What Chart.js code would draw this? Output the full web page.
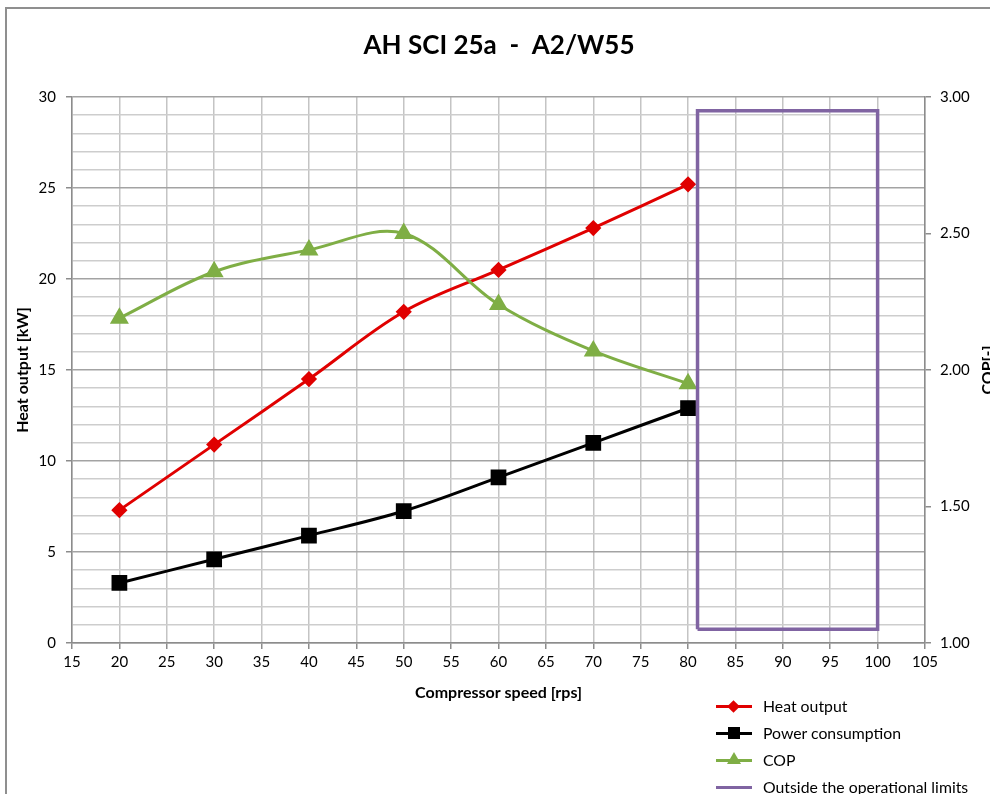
<!DOCTYPE html>
<html>
<head>
<meta charset="utf-8">
<script src="https://cdn.jsdelivr.net/npm/chart.js@4.4.1/dist/chart.umd.min.js"></script>
<style>
  body { margin: 0; background: #fff; overflow: hidden; font-family: Lato, sans-serif; }
  #wrap { position: relative; width: 990px; height: 794px; overflow: hidden; }
  #frame { position: absolute; left: 5px; top: 7px; width: 1100px; height: 900px;
           border-left: 2px solid #8f8f8f; border-top: 2px solid #8f8f8f; }
  #chart { position: absolute; left: 0; top: 0; }
  #legend { position: absolute; left: 716px; top: 693px; font-size: 15.8px; color: #000; }
  .item { position: relative; height: 27px; line-height: 26px; padding-left: 47px; white-space: nowrap; }
  .line { position: absolute; left: 0; top: 12px; width: 36px; height: 3px; }
  .mk { position: absolute; }
</style>
</head>
<body>
<div id="wrap">
  <div id="frame"></div>
  <canvas id="chart" width="990" height="794"></canvas>
  <div id="legend">
    <div class="item"><span class="line" style="background:#e00000"></span><span class="mk" style="left:13px;top:9px;width:9px;height:9px;background:#e00000;transform:rotate(45deg)"></span>Heat output</div>
    <div class="item"><span class="line" style="background:#000"></span><span class="mk" style="left:12px;top:7px;width:12px;height:12px;background:#000"></span>Power consumption</div>
    <div class="item"><span class="line" style="background:#7fae45"></span><span class="mk" style="left:11px;top:5px;width:0;height:0;border-left:7px solid transparent;border-right:7px solid transparent;border-bottom:12px solid #7fae45"></span>COP</div>
    <div class="item"><span class="line" style="background:#8064a2"></span>Outside the operational limits</div>
  </div>
</div>
<script>
// compressor speed [rps]
const speed = [20, 30, 40, 50, 60, 70, 80];
// heat output [kW]
const heatOutput = [7.3, 10.9, 14.5, 18.2, 20.5, 22.8, 25.2];
// power consumption [kW]
const powerUse = [3.3, 4.6, 5.9, 7.25, 9.1, 11.0, 12.9];
// COP [-]
const cop = [2.19, 2.36, 2.44, 2.50, 2.24, 2.07, 1.95];
// frame outside the operational limits (on COP axis)
const limitX = [81, 81, 100, 100, 81];
const limitY = [1.05, 2.95, 2.95, 1.05, 1.05];

const font = 'Lato';

function pts(xs, ys) {
    return xs.map((x, i) => ({ x: x, y: ys[i] }));
}

const copTitle = {
    id: 'copTitle',
    afterDraw(chart) {
        const ctx = chart.ctx;
        const a = chart.chartArea;
        ctx.save();
        ctx.translate(988, (a.top + a.bottom) / 2);
        ctx.rotate(-Math.PI / 2);
        ctx.font = 'bold 16px ' + font;
        ctx.fillStyle = '#000';
        ctx.textAlign = 'center';
        ctx.textBaseline = 'middle';
        ctx.fillText('COP[-]', 0, 0);
        ctx.restore();
    }
};

new Chart(document.getElementById('chart'), {
    type: 'line',
    data: {
        datasets: [{
                label: 'Outside the operational limits',
                data: pts(limitX, limitY),
                yAxisID: 'y1',
                borderColor: '#8064a2',
                borderWidth: 3.5,
                pointRadius: 0,
                tension: 0,
                order: 0
            },
            {
                label: 'Heat output',
                data: pts(speed, heatOutput),
                yAxisID: 'y',
                borderColor: '#e00000',
                backgroundColor: '#e00000',
                borderWidth: 3,
                pointStyle: 'rectRot',
                pointRadius: 6,
                tension: 0.35,
                order: 3
            },
            {
                label: 'Power consumption',
                data: pts(speed, powerUse),
                yAxisID: 'y',
                borderColor: '#000',
                backgroundColor: '#000',
                borderWidth: 3,
                pointStyle: 'rect',
                pointRadius: 9,
                tension: 0.35,
                order: 2
            },
            {
                label: 'COP',
                data: pts(speed, cop),
                yAxisID: 'y1',
                borderColor: '#7fae45',
                backgroundColor: '#7fae45',
                borderWidth: 3,
                pointStyle: 'triangle',
                pointRadius: 8,
                tension: 0.35,
                order: 1
            }
        ]
    },
    options: {
        responsive: false,
        animation: false,
        layout: { padding: { left: 8, right: 0, top: 0, bottom: 91 } },
        plugins: {
            legend: { display: false },
            tooltip: { enabled: false },
            title: {
                display: true,
                text: 'AH SCI 25a  -  A2/W55',
                color: '#000',
                font: { family: font, size: 26, weight: 'bold' },
                padding: { top: 30, bottom: 35.8 }
            }
        },
        scales: {
            x: {
                type: 'linear',
                min: 15,
                max: 105,
                ticks: { stepSize: 5, color: '#000', font: { family: font, size: 15 }, padding: 4, maxRotation: 0 },
                grid: { color: '#c4c4c4', lineWidth: 1.5, tickLength: 6, tickColor: '#8c8c8c' },
                border: { color: '#8c8c8c', width: 1.5 },
                title: {
                    display: true,
                    text: 'Compressor speed [rps]',
                    color: '#000',
                    font: { family: font, size: 16, weight: 'bold' },
                    padding: { top: 4, bottom: 1 }
                },
                afterFit: function(s) { s.height = 60; }
            },
            y: {
                position: 'left',
                min: 0,
                max: 30,
                ticks: {
                    stepSize: 1,
                    autoSkip: false,
                    color: '#000',
                    font: { family: font, size: 15 },
                    padding: 10,
                    callback: v => v % 5 === 0 ? v : ''
                },
                grid: {
                    color: c => c.tick && c.tick.value % 5 === 0 ? '#a3a3a3' : '#cdcdcd',
                    lineWidth: 1.5,
                    tickLength: 6,
                    tickColor: c => c.tick && c.tick.value % 5 === 0 ? '#8c8c8c' : 'rgba(0,0,0,0)'
                },
                border: { color: '#8c8c8c', width: 1.5 },
                title: {
                    display: true,
                    text: 'Heat output [kW]',
                    color: '#000',
                    font: { family: font, size: 16, weight: 'bold' },
                    padding: { top: 5, bottom: 0 }
                },
                afterFit: function(s) { s.width = 64; }
            },
            y1: {
                position: 'right',
                min: 1,
                max: 3,
                ticks: {
                    stepSize: 0.5,
                    color: '#000',
                    font: { family: font, size: 15 },
                    padding: 9,
                    callback: v => v.toFixed(2)
                },
                grid: { drawOnChartArea: false, tickLength: 6, color: '#8c8c8c', lineWidth: 1.5 },
                border: { color: '#8c8c8c', width: 1.5 },
                afterFit: function(s) { s.width = 65; }
            }
        }
    },
    plugins: [copTitle]
});
</script>
</body>
</html>
